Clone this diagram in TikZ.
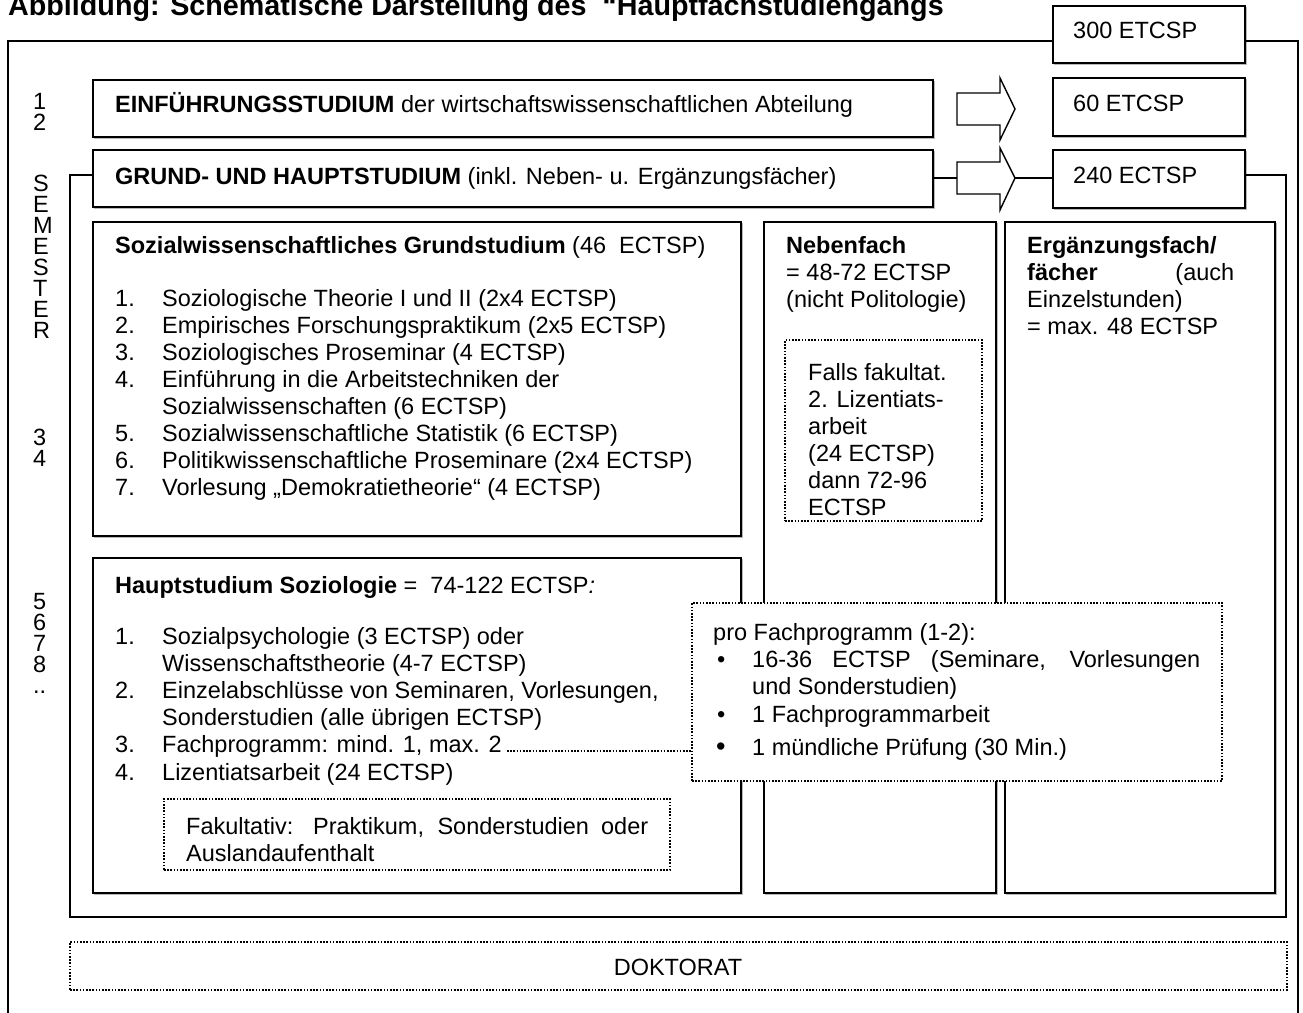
\documentclass[tikz,border=0pt]{standalone}
\usepackage{fontspec}
\setmainfont{Liberation Sans}
\newcounter{tlc}
\newcommand\tl[4][txt]{\stepcounter{tlc}\node[#1] (t\arabic{tlc}) at (#2,#3) {#4};}
\newcommand\bx[6]{\node[#1, minimum width=#4-#2, minimum height=#5-#3] (#6) at (#2,#3) {};}
\begin{document}
\begin{tikzpicture}[x=1pt,y=-1pt,
  box/.style={draw, line width=1.4pt, inner sep=0, outer sep=0, anchor=north west, fill=white,
    preaction={draw=gray!55, line width=1.4pt, transform canvas={shift={(1.3pt,-1.3pt)}}}},
  dbox/.style={draw, line width=1.6pt, dash pattern=on 1.6pt off 1.6pt, inner sep=0, outer sep=0, anchor=north west, fill=white},
  dotline/.style={line width=1.6pt, dash pattern=on 1.6pt off 1.6pt},
  txt/.style={anchor=base west, inner sep=0, font=\fontsize{23.5}{27}\selectfont},
  ctxt/.style={anchor=base, inner sep=0, font=\fontsize{23.5}{27}\selectfont},
  ttl/.style={anchor=base west, inner sep=0, font=\fontsize{28.7}{32}\selectfont\bfseries},
  ln/.style={line width=1.4pt}]
\useasboundingbox (0,0) rectangle (1303,1012);
% title
\tl[ttl]{8}{15}{Abbildung: Schematische Darstellung des \ “Hauptfachstudiengangs}
% outer frame
\bx{box}{1053}{6}{1245}{63}{b300}
\draw[ln] (b300.west |- 0,41) -- (8,41) -- (8,1030);
\draw[ln] (b300.east |- 0,41) -- (1298,41) -- (1298,1030);
% inner frame
\bx{box}{1053}{150}{1245}{208}{b240}
\bx{box}{93}{150}{933}{207}{grund}
\draw[ln] (b240.east |- 0,175) -- (1286,175) -- (1286,917) -- (70,917) -- (70,175) -- (grund.west |- 0,175);
\bx{box}{1053}{78}{1245}{136}{b60}
\bx{box}{93}{80}{933}{137}{einf}
% arrows
\draw[ln, fill=white] (957,93) -- (1000,93) -- (1000,78) -- (1015,109) -- (1000,140) -- (1000,125) -- (957,125) -- cycle;
\coordinate (a2w) at (957,178);
\coordinate (a2e) at (1015,178);
\draw[ln, fill=white] (957,162) -- (1000,162) -- (1000,148) -- (a2e) -- (1000,210) -- (1000,194) -- (957,194) -- cycle;
\draw[ln] (grund.east |- a2w) -- (a2w);
\draw[ln] (a2e) -- (b240.west |- a2e);
% texts top
\tl{1073}{38}{300 ETCSP}
\tl{1073}{111}{60 ETCSP}
\tl{1073}{183}{240 ECTSP}
\tl{115}{112}{\textbf{EINFÜHRUNGSSTUDIUM} der wirtschaftswissenschaftlichen Abteilung}
\tl{115}{184}{\textbf{GRUND- UND HAUPTSTUDIUM} (inkl. Neben- u. Ergänzungsfächer)}
% left column
\tl{33}{109}{1}
\tl{33}{130}{2}
\tl{33}{191}{S}
\tl{33}{212}{E}
\tl{33}{233}{M}
\tl{33}{254}{E}
\tl{33}{275}{S}
\tl{33}{296}{T}
\tl{33}{317}{E}
\tl{33}{338}{R}
\tl{33}{445}{3}
\tl{33}{466}{4}
\tl{33}{609}{5}
\tl{33}{630}{6}
\tl{33}{651}{7}
\tl{33}{672}{8}
\tl{33}{693}{..}
% column boxes
\bx{box}{93}{222}{741}{536}{sozial}
\bx{box}{764}{222}{996}{893}{neben}
\bx{box}{1005}{222}{1275}{893}{ergaenz}
\bx{box}{93}{558}{741}{893}{haupt}
\bx{dbox}{785}{340}{982}{521}{falls}
\bx{dbox}{164}{799}{670}{870}{fakult}
\bx{dbox}{70}{942}{1287}{990}{doktorat}
% Sozialwiss
\tl{115}{253}{\textbf{Sozialwissenschaftliches Grundstudium} (46 \ ECTSP)}
\tl{115}{306}{1.}\tl{162}{306}{Soziologische Theorie I und II (2x4 ECTSP)}
\tl{115}{333}{2.}\tl{162}{333}{Empirisches Forschungspraktikum (2x5 ECTSP)}
\tl{115}{360}{3.}\tl{162}{360}{Soziologisches Proseminar (4 ECTSP)}
\tl{115}{387}{4.}\tl{162}{387}{Einführung in die Arbeitstechniken der}
\tl{162}{414}{Sozialwissenschaften (6 ECTSP)}
\tl{115}{441}{5.}\tl{162}{441}{Sozialwissenschaftliche Statistik (6 ECTSP)}
\tl{115}{468}{6.}\tl{162}{468}{Politikwissenschaftliche Proseminare (2x4 ECTSP)}
\tl{115}{495}{7.}\tl{162}{495}{Vorlesung „Demokratietheorie“ (4 ECTSP)}
% Hauptstudium
\tl{115}{593}{\textbf{Hauptstudium Soziologie} = \ 74-122 ECTSP\textit{:}}
\tl{115}{644}{1.}\tl{162}{644}{Sozialpsychologie (3 ECTSP) oder}
\tl{162}{671}{Wissenschaftstheorie (4-7 ECTSP)}
\tl{115}{698}{2.}\tl{162}{698}{Einzelabschlüsse von Seminaren, Vorlesungen,}
\tl{162}{725}{Sonderstudien (alle übrigen ECTSP)}
\tl{115}{752}{3.}\tl{162}{752}{Fachprogramm: mind. 1, max. 2}
\tl{115}{780}{4.}\tl{162}{780}{Lizentiatsarbeit (24 ECTSP)}
\tl{186}{834}{\makebox[462pt][s]{Fakultativ: Praktikum, Sonderstudien oder}}
\tl{186}{861}{Auslandaufenthalt}
% Nebenfach
\tl{786}{253}{\textbf{Nebenfach}}
\tl{786}{280}{= 48-72 ECTSP}
\tl{786}{307}{(nicht Politologie)}
\tl{808}{380}{Falls fakultat.}
\tl{808}{407}{2. Lizentiats-}
\tl{808}{434}{arbeit}
\tl{808}{461}{(24 ECTSP)}
\tl{808}{488}{dann 72-96}
\tl{808}{515}{ECTSP}
% Ergaenzung
\tl{1027}{253}{\textbf{Ergänzungsfach/}}
\tl{1027}{280}{\makebox[207pt][s]{\textbf{fächer} (auch}}
\tl{1027}{307}{Einzelstunden)}
\tl{1027}{334}{= max. 48 ECTSP}
% pro Fachprogramm box
\bx{dbox}{692}{603}{1222}{781}{pro}
\coordinate (fp) at (507,751);
\draw[dotline] (fp) -- (pro.west |- fp);
\tl{713}{640}{pro Fachprogramm (1-2):}
\tl{717}{667}{•}\tl{752}{667}{\makebox[448pt][s]{16-36 ECTSP (Seminare, Vorlesungen}}
\tl{752}{694}{und Sonderstudien)}
\tl{717}{722}{•}\tl{752}{722}{1 Fachprogrammarbeit}
\tl{716}{755}{\fontsize{27}{27}\selectfont•}\tl{752}{755}{1 mündliche Prüfung (30 Min.)}
% Doktorat
\tl[ctxt]{678}{975}{DOKTORAT}
\end{tikzpicture}
\end{document}
